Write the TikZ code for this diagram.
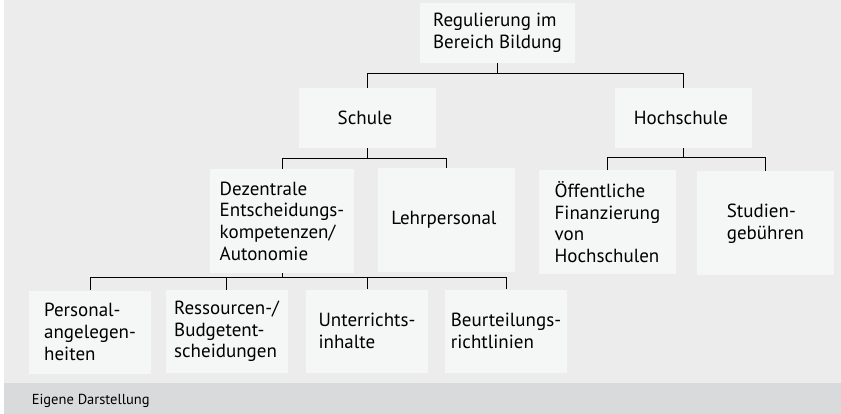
\documentclass[tikz,border=0pt]{standalone}
\usepackage{fontspec}
\setmainfont{PT Sans}
\usepackage{tikz}
\definecolor{grund}{HTML}{ECECEC}
\definecolor{feld}{HTML}{F5F6F6}
\definecolor{fuss}{HTML}{D9DADB}
\newcommand{\gross}{\fontsize{19}{21.7}\selectfont}
\newcommand{\klein}{\fontsize{14.5}{16}\selectfont}

\begin{document}
\begin{tikzpicture}[ x = 1pt, y = -1pt, line width = 0.9pt,
	box/.style = { fill = feld, align = left, inner sep = 0pt,
		font = \gross, text = black },
	ebene1/.style = { box, minimum width = 155pt, minimum height = 60pt },
	ebene2/.style = { box, minimum width = 137pt, minimum height = 60pt },
	ebene3/.style = { box, minimum width = 137pt, minimum height = 104pt },
	ebene4/.style = { box, minimum width = 122pt, minimum height = 83pt } ]
	\useasboundingbox (0,0) rectangle (841,414);
	\fill [ white ] (0,0) rectangle (841,414);
	\fill [ grund ] (4,0) rectangle (841,383);
	\fill [ fuss ] (4,383) rectangle (841,414);
	\node [ ebene1 ] (1) at (497.5,33)
		{ Regulierung im\\ Bereich Bildung };
	\node [ ebene2 ] (2) at (367.5,118)
		{ Schule };
	\node [ ebene2 ] (3) at (683.5,118)
		{ Hochschule };
	\node [ ebene3, minimum width = 144pt ] (4) at (282,221)
		{ Dezentrale\\ Entscheidungs-\\ kompetenzen/\\ Autonomie };
	\node [ ebene3 ] (5) at (446.5,220)
		{ Lehrpersonal };
	\node [ ebene3 ] (6) at (607.5,222)
		{ Öffentliche\\ Finanzierung\\ von\\ Hochschulen };
	\node [ ebene3 ] (7) at (765.5,223.5)
		{ Studien-\\ gebühren };
	\node [ ebene4 ] (8) at (90,332)
		{ Personal-\\ angelegen-\\ heiten };
	\node [ ebene4 ] (9) at (226.5,331.5)
		{ Ressourcen-/\\ Budgetent-\\ scheidungen };
	\node [ ebene4 ] (10) at (367,331)
		{ Unterrichts-\\ inhalte };
	\node [ ebene4 ] (11) at (506,331)
		{ Beurteilungs-\\ richtlinien };
	\node [ anchor = base west, font = \klein, text = black ] (12) at (28,404)
		{ Eigene Darstellung };
	\draw (1.south) -- ++(0,10) -| (2.north);
	\draw (1.south) -- ++(0,10) -| (3.north);
	\draw (2.south) -- ++(0,10) -| (4.north);
	\draw (2.south) -- ++(0,10) -| (5.north);
	\draw (3.south) -- ++(0,9) -| (6.north);
	\draw (3.south) -- ++(0,9) -| (7.north);
	\draw (4.south) -- ++(0,4.5) -| (8.north);
	\draw (4.south) -- ++(0,4.5) -| (9.north);
	\draw (4.south) -- ++(0,4.5) -| (10.north);
	\draw (4.south) -- ++(0,4.5) -| (11.north);
\end{tikzpicture}
\end{document}
